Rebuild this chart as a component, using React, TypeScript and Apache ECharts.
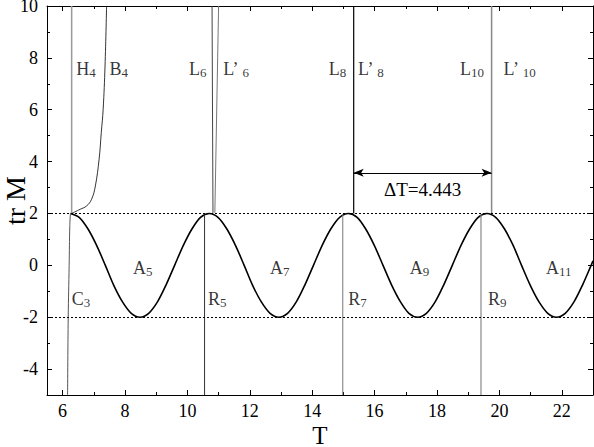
import React, { useEffect, useRef } from "react";
import * as echarts from "echarts";

const FONT = "Liberation Serif";

// Tick values / labels
const X_MAJOR = [6, 8, 10, 12, 14, 16, 18, 20, 22];
const X_MINOR = [7, 9, 11, 13, 15, 17, 19, 21];
const Y_MAJOR = [-4, -2, 0, 2, 4, 6, 8, 10];
const Y_MINOR = [-3, -1, 1, 3, 5, 7, 9];

// Main oscillating branch (A5 ... A11)
const mainCurve: [number, number][] = [
  [6.25, 2.0], [6.53, 1.85], [6.81, 1.41], [7.09, 0.77], [7.37, 0.0], [7.64, -0.77], [7.92, -1.41], [8.2, -1.85],
  [8.48, -2.0], [8.76, -1.85], [9.04, -1.41], [9.31, -0.77], [9.59, 0.0], [9.87, 0.77], [10.15, 1.41], [10.42, 1.85],
  [10.7, 2.0], [10.98, 1.85], [11.26, 1.41], [11.54, 0.77], [11.82, 0.0], [12.09, -0.77], [12.37, -1.41], [12.65, -1.85],
  [12.93, -2.0], [13.21, -1.85], [13.49, -1.41], [13.76, -0.77], [14.04, 0.0], [14.32, 0.77], [14.6, 1.41], [14.88, 1.85],
  [15.16, 2.0], [15.44, 1.85], [15.71, 1.41], [15.99, 0.77], [16.27, 0.0], [16.55, -0.77], [16.83, -1.41], [17.1, -1.85],
  [17.38, -2.0], [17.66, -1.85], [17.94, -1.41], [18.21, -0.77], [18.49, 0.0], [18.77, 0.77], [19.05, 1.41], [19.32, 1.85],
  [19.6, 2.0], [19.88, 1.85], [20.16, 1.41], [20.44, 0.77], [20.71, 0.0], [20.99, -0.77], [21.27, -1.41], [21.55, -1.85],
  [21.83, -2.0], [22.11, -1.85], [22.39, -1.41], [22.66, -0.77], [22.94, 0.0], [23.0, 0.17],
];

const c3: [number, number][] = [[6.16, -5], [6.18, -2], [6.21, 0], [6.23, 1.5], [6.25, 2]];
const h4: [number, number][] = [[6.29, 2], [6.29, 10]];
const b4: [number, number][] = [
  [6.29, 2.0], [6.56, 2.16], [6.77, 2.29], [6.93, 2.55], [7.05, 3.06], [7.17, 4.09],
  [7.24, 5.12], [7.3, 6.02], [7.36, 7.69], [7.41, 10],
];
const l6: [number, number][] = [[10.82, 2.02], [10.79, 10]];
const lp6: [number, number][] = [[10.88, 2.02], [11.0, 10]];
const r5: [number, number][] = [[10.55, 1.96], [10.55, -5]];
const l8: [number, number][] = [[15.33, 2.0], [15.33, 10]];
const r7: [number, number][] = [[14.98, 1.96], [14.98, -5]];
const l10: [number, number][] = [[19.75, 2.0], [19.75, 10]];
const r9: [number, number][] = [[19.41, 1.96], [19.41, -5]];

const deltaT = { from: 15.33, to: 19.75, y: 3.57, text: "ΔT=4.443" };

// Curve labels: [T, trM, main, subscript]
const labels: [number, number, string, string][] = [
  [6.75, 7.56, "H", "4"],
  [7.8, 7.56, "B", "4"],
  [10.33, 7.56, "L", "6"],
  [11.55, 7.56, "L’ ", "6"],
  [14.81, 7.56, "L", "8"],
  [15.87, 7.56, "L’ ", "8"],
  [19.12, 7.56, "L", "10"],
  [20.64, 7.56, "L’ ", "10"],
  [6.59, -1.31, "C", "3"],
  [8.57, -0.12, "A", "5"],
  [10.96, -1.31, "R", "5"],
  [12.96, -0.12, "A", "7"],
  [15.45, -1.31, "R", "7"],
  [17.44, -0.12, "A", "9"],
  [19.93, -1.31, "R", "9"],
  [21.9, -0.12, "A", "11"],
];

function lineSeries(name: string, data: [number, number][], color: string, width: number, smooth: boolean | number = false) {
  return {
    name,
    type: "line",
    data,
    showSymbol: false,
    symbol: "none",
    smooth,
    lineStyle: { color, width },
    silent: true,
    z: 3,
  };
}

export default function App() {
  const ref = useRef<HTMLDivElement>(null);
  useEffect(() => {
    if (!ref.current) return;
    const chart = echarts.init(ref.current, undefined, { renderer: "svg" });
    const xBase = { type: "value", min: 5.5, max: 23, splitLine: { show: false } };
    const yBase = { type: "value", min: -5, max: 10, splitLine: { show: false } };
    const tickStyle = { color: "#000", width: 1 };
    const lineOn = { show: true, onZero: false, lineStyle: { color: "#000", width: 1 } };
    const lineOff = { show: false, onZero: false };
    chart.setOption({
      animation: false,
      backgroundColor: "#fff",
      grid: { left: 47, right: 1, top: 6, bottom: 52, containLabel: false, outerBoundsMode: "none" },
      xAxis: [
        {
          ...xBase,
          position: "bottom",
          axisLine: lineOn,
          axisTick: { inside: true, length: 3, customValues: X_MINOR, lineStyle: tickStyle },
          axisLabel: { customValues: X_MAJOR, fontFamily: FONT, fontSize: 18, lineHeight: 14, color: "#000", margin: 9 },
          name: "T",
          nameLocation: "middle",
          nameGap: 40,
          nameMoveOverlap: false,
          nameTextStyle: { fontFamily: FONT, fontSize: 25, lineHeight: 22, color: "#000", verticalAlign: "middle" },
        },
        {
          ...xBase,
          position: "bottom",
          axisLine: lineOff,
          axisTick: { inside: true, length: 5, customValues: X_MAJOR, lineStyle: tickStyle },
          axisLabel: { show: false },
        },
        {
          ...xBase,
          position: "top",
          axisLine: lineOn,
          axisTick: { inside: true, length: 3, customValues: X_MINOR, lineStyle: tickStyle },
          axisLabel: { show: false },
        },
        {
          ...xBase,
          position: "top",
          axisLine: lineOff,
          axisTick: { inside: true, length: 5, customValues: X_MAJOR, lineStyle: tickStyle },
          axisLabel: { show: false },
        },
      ],
      yAxis: [
        {
          ...yBase,
          position: "left",
          axisLine: lineOn,
          axisTick: { show: true, inside: true, length: 3, customValues: Y_MINOR, lineStyle: tickStyle },
          axisLabel: { customValues: Y_MAJOR, fontFamily: FONT, fontSize: 18, lineHeight: 12, color: "#000", margin: 9 },
          name: "tr M",
          nameLocation: "middle",
          nameGap: 20,
          nameMoveOverlap: false,
          nameTextStyle: { fontFamily: FONT, fontSize: 28, lineHeight: 24, color: "#000" },
        },
        {
          ...yBase,
          position: "left",
          axisLine: lineOff,
          axisTick: { show: true, inside: true, length: 5, customValues: Y_MAJOR, lineStyle: tickStyle },
          axisLabel: { show: false },
        },
        {
          ...yBase,
          position: "right",
          axisLine: lineOn,
          axisTick: { show: true, inside: true, length: 3, customValues: Y_MINOR, lineStyle: tickStyle },
          axisLabel: { show: false },
        },
        {
          ...yBase,
          position: "right",
          axisLine: lineOff,
          axisTick: { show: true, inside: true, length: 5, customValues: Y_MAJOR, lineStyle: tickStyle },
          axisLabel: { show: false },
        },
      ],
      series: [
        {
          name: "guides",
          type: "line",
          data: [],
          silent: true,
          markLine: {
            silent: true,
            symbol: "none",
            label: { show: false },
            lineStyle: { color: "#000", width: 1, type: [2, 2] },
            data: [{ yAxis: 2 }, { yAxis: -2 }],
          },
          z: 1,
        },
        lineSeries("main", mainCurve, "#000", 1.6, 0.3),
        lineSeries("C3", c3, "#555", 1, 0.4),
        lineSeries("H4", h4, "#999", 1.5),
        lineSeries("B4", b4, "#000", 0.8, 0.4),
        lineSeries("L6", l6, "#444", 1),
        lineSeries("L'6", lp6, "#777", 1),
        lineSeries("R5", r5, "#333", 1),
        lineSeries("L8", l8, "#000", 1.2),
        lineSeries("R7", r7, "#777", 1),
        lineSeries("L10", l10, "#888", 1.5),
        lineSeries("R9", r9, "#888", 1.2),
        {
          name: "deltaT",
          type: "line",
          data: [],
          silent: true,
          markLine: {
            silent: true,
            symbol: ["arrow", "arrow"],
            symbolSize: [6, 10],
            label: {
              show: true,
              position: "middle",
              formatter: deltaT.text,
              fontFamily: FONT,
              fontSize: 19,
              color: "#000",
              distance: -26,
            },
            lineStyle: { color: "#000", width: 1, type: "solid" },
            data: [[{ coord: [deltaT.from, deltaT.y] }, { coord: [deltaT.to, deltaT.y] }]],
          },
        },
        {
          name: "labels",
          type: "scatter",
          symbolSize: 0,
          silent: true,
          data: labels.map(([x, y, m, s]) => ({
            value: [x, y],
            label: {
              show: true,
              position: "inside",
              formatter: `{a|${m}}{s|${s}}`,
              rich: {
                a: { fontFamily: FONT, fontSize: 18, color: "#000", lineHeight: 20 },
                s: { fontFamily: FONT, fontSize: 13, color: "#000", lineHeight: 14, verticalAlign: "bottom" },
              },
            },
          })),
          z: 5,
        },
      ],
    });
    return () => chart.dispose();
  }, []);
  return (
    <div
      ref={ref}
      style={{ position: "fixed", left: 0, top: 0, width: 594, height: 447, background: "#fff" }}
    />
  );
}
